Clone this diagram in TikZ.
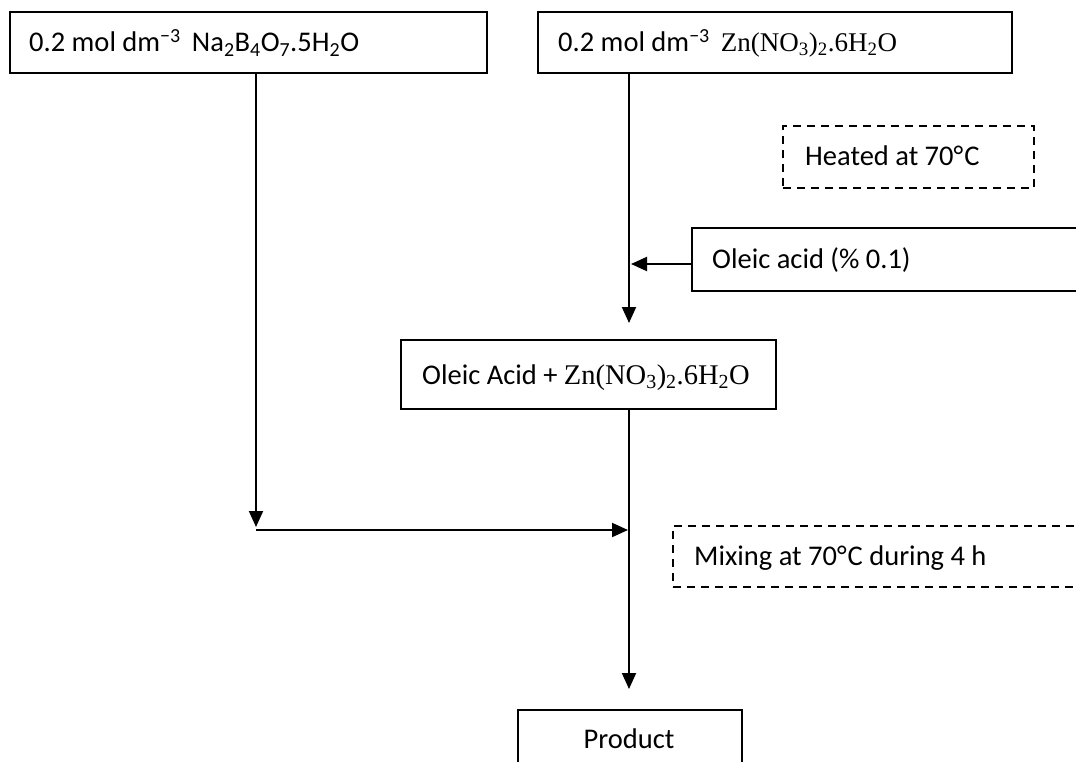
\documentclass[tikz,border=0pt]{standalone}
\usepackage{fontspec}
\setmainfont{Carlito}
\newfontfamily\tnr{Liberation Serif}
\usetikzlibrary{arrows.meta}
\tikzset{
  box/.style={draw, line width=1.8pt, inner xsep=0pt, inner ysep=0pt, minimum height=#1, anchor=north west},
  dbox/.style={box=#1, line width=2.2pt, dash pattern=on 8pt off 6pt},
  lbl/.style={anchor=base west, inner sep=0pt, font=\fontsize{28.5}{32}\selectfont},
  flow/.style={line width=2pt, -{Triangle[length=16pt,width=14pt]}},
}
\begin{document}
\begin{tikzpicture}[x=1pt,y=-1pt]
\useasboundingbox (0,0) rectangle (1076,762);
\clip (0,0) rectangle (1076,762);
% boxes
\node[box=61pt, minimum width=477pt] (B1) at (9,11) {};
\node[lbl] (t1) at (29,52) {0.2 mol dm\textsuperscript{−3}\, Na\textsubscript{2}B\textsubscript{4}O\textsubscript{7}.5H\textsubscript{2}O};
\node[box=61pt, minimum width=474pt] (B2) at (537,11) {};
\node[lbl] (t2) at (558,52) {0.2 mol dm\textsuperscript{−3}\, {\tnr\fontsize{27}{32}\selectfont Zn(NO\textsubscript{3})\textsubscript{2}.6H\textsubscript{2}O}};
\node[dbox=62pt, minimum width=251pt] (H) at (782,125) {};
\node[lbl] (th) at (805,166) {Heated at 70°\kern1ptC};
\node[box=63pt, minimum width=450pt] (O) at (691,227) {};
\node[lbl] (to) at (712,269) {Oleic acid (\% 0.1)};
\node[box=69pt, minimum width=375pt] (M) at (400,339) {};
\node[lbl] (tm) at (422,384) {Oleic Acid + {\tnr Zn(NO\textsubscript{3})\textsubscript{2}.6H\textsubscript{2}O}};
\node[dbox=61pt, minimum width=450pt] (X) at (672,525) {};
\node[lbl] (tx) at (694,565) {Mixing at 70°\kern1ptC during 4 h};
\node[box=80pt, minimum width=224pt] (P) at (517,709) {};
\node[lbl, anchor=base] (tp) at (629,748) {Product};
% connector points
\coordinate (c1) at (256,527);
\coordinate (c1h) at (256,530);
\coordinate (c2) at (629,323);
\coordinate (c3) at (631,264);
\coordinate (c4) at (628,530);
\coordinate (c5) at (629,689);
% connectors
\draw[flow] (B1.south -| c1) -- (c1);
\draw[flow] (B2.south -| c2) -- (c2);
\draw[flow] (O.west |- c3) -- (c3);
\draw[flow] (c1h) -- (c4);
\draw[flow] (M.south -| c5) -- (c5);
\end{tikzpicture}
\end{document}
